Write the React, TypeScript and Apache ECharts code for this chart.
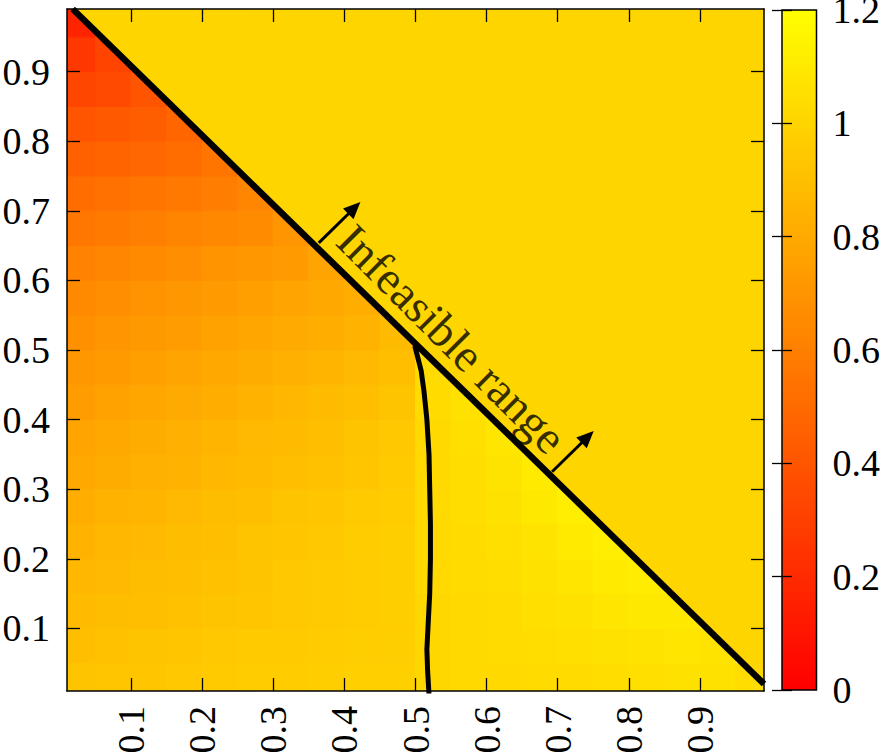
import React, { useEffect, useRef } from 'react';
import * as echarts from 'echarts';

// ---- data ----
// heat-map cell centres (cell width 0.05)
const cellCentersX = [0.025, 0.075, 0.125, 0.175, 0.225, 0.275, 0.325, 0.375, 0.425, 0.475, 0.525, 0.575, 0.625, 0.675, 0.725, 0.775, 0.825, 0.875, 0.925, 0.975];
const cellCentersY = [0.025, 0.075, 0.125, 0.175, 0.225, 0.275, 0.325, 0.375, 0.425, 0.475, 0.525, 0.575, 0.625, 0.675, 0.725, 0.775, 0.825, 0.875, 0.925, 0.975];

// one array per row of cells (feasible region only, x + y <= 1), values left to right
const row_y025 = [0.92, 0.93, 0.93, 0.94, 0.95, 0.96, 0.96, 0.97, 0.98, 0.98, 1.01, 1.02, 1.02, 1.03, 1.03, 1.04, 1.05, 1.06, 1.06, 1.04];
const row_y075 = [0.90, 0.91, 0.92, 0.93, 0.94, 0.95, 0.95, 0.96, 0.97, 0.97, 1.01, 1.02, 1.03, 1.04, 1.05, 1.06, 1.07, 1.08, 1.07];
const row_y125 = [0.88, 0.89, 0.90, 0.91, 0.92, 0.93, 0.94, 0.95, 0.96, 0.97, 1.01, 1.02, 1.03, 1.05, 1.06, 1.08, 1.09, 1.09];
const row_y175 = [0.86, 0.87, 0.89, 0.90, 0.91, 0.92, 0.94, 0.95, 0.96, 0.97, 1.02, 1.03, 1.04, 1.06, 1.08, 1.10, 1.11];
const row_y225 = [0.84, 0.86, 0.87, 0.89, 0.90, 0.92, 0.93, 0.94, 0.96, 0.97, 1.02, 1.03, 1.05, 1.07, 1.10, 1.12];
const row_y275 = [0.82, 0.84, 0.85, 0.87, 0.89, 0.90, 0.92, 0.93, 0.95, 0.96, 1.02, 1.04, 1.06, 1.09, 1.12];
const row_y325 = [0.79, 0.81, 0.83, 0.84, 0.86, 0.88, 0.90, 0.91, 0.93, 0.95, 1.02, 1.04, 1.07, 1.10];
const row_y375 = [0.77, 0.79, 0.81, 0.83, 0.85, 0.87, 0.88, 0.90, 0.92, 0.94, 1.02, 1.05, 1.08];
const row_y425 = [0.74, 0.76, 0.78, 0.80, 0.82, 0.84, 0.86, 0.88, 0.90, 0.92, 1.03, 1.06];
const row_y475 = [0.71, 0.73, 0.75, 0.77, 0.79, 0.81, 0.83, 0.85, 0.87, 0.90, 1.03];
const row_y525 = [0.68, 0.70, 0.72, 0.74, 0.76, 0.78, 0.80, 0.82, 0.84, 0.88];
const row_y575 = [0.65, 0.67, 0.69, 0.71, 0.73, 0.75, 0.77, 0.79, 0.82];
const row_y625 = [0.61, 0.63, 0.65, 0.67, 0.69, 0.71, 0.73, 0.77];
const row_y675 = [0.56, 0.58, 0.60, 0.62, 0.64, 0.66, 0.70];
const row_y725 = [0.51, 0.53, 0.55, 0.57, 0.59, 0.63];
const row_y775 = [0.45, 0.47, 0.49, 0.51, 0.55];
const row_y825 = [0.40, 0.42, 0.44, 0.48];
const row_y875 = [0.33, 0.35, 0.40];
const row_y925 = [0.26, 0.32];
const row_y975 = [0.17];
const valueRows = [row_y025, row_y075, row_y125, row_y175, row_y225, row_y275, row_y325, row_y375, row_y425, row_y475,
  row_y525, row_y575, row_y625, row_y675, row_y725, row_y775, row_y825, row_y875, row_y925, row_y975];

// feasibility boundary line (x + y = 1); the region above it is infeasible
const boundaryX = [0.018, 0.99];
const boundaryY = [0.99, 0.02];
const infeasibleValue = 1.0;
const plotCornerX = 0.99;
const plotCornerY = 0.99;

// contour line
const contourX = [0.499, 0.503, 0.508, 0.512, 0.516, 0.519, 0.520, 0.521, 0.521, 0.520, 0.518, 0.516, 0.517, 0.519];
const contourY = [0.506, 0.490, 0.470, 0.440, 0.400, 0.350, 0.300, 0.250, 0.200, 0.150, 0.110, 0.070, 0.040, 0.005];

// arrows pointing into the infeasible region
const arrowStartX = [0.364, 0.692];
const arrowStartY = [0.654, 0.325];
const arrowEndX = [0.414, 0.742];
const arrowEndY = [0.704, 0.375];

// annotation
const annotationText = 'Infeasible range';
const annotationX = 0.551;
const annotationY = 0.516;

// ticks and colour scale
const axisTicks = [0.1, 0.2, 0.3, 0.4, 0.5, 0.6, 0.7, 0.8, 0.9];
const colorbarTicks = [0, 0.2, 0.4, 0.6, 0.8, 1, 1.2];
const axisMin = 0.01;
const axisMax = 0.99;
const colorMin = 0;
const colorMax = 1.2;
const colorRange = ['#ff0000', '#ffff00'];

const CELL = 0.05;
const FONT = "'Liberation Serif', 'Times New Roman', Times, serif";

export default function App() {
  const ref = useRef<HTMLDivElement>(null);

  useEffect(() => {
    if (!ref.current) return;
    const chart = echarts.init(ref.current, null, { renderer: 'svg' });

    const cells: number[][] = [];
    valueRows.forEach((row, j) => {
      row.forEach((v, i) => {
        cells.push([cellCentersX[i], cellCentersY[j], v]);
      });
    });

    const mainAxisCommon = (pos: string, showLabel: boolean) => ({
      gridIndex: 0,
      type: 'value',
      position: pos,
      min: axisMin,
      max: axisMax,
      z: 5,
      axisLine: { show: true, onZero: false, lineStyle: { color: '#000', width: 1.5 } },
      axisTick: { show: true, inside: true, length: 13, customValues: axisTicks, lineStyle: { color: '#000', width: 1.3 } },
      axisLabel: {
        show: showLabel,
        customValues: axisTicks,
        margin: 17,
        fontSize: 38,
        fontFamily: FONT,
        color: '#000',
      } as any,
      splitLine: { show: false },
    });

    const xBottom: any = mainAxisCommon('bottom', true);
    xBottom.axisLabel.rotate = 90;
    xBottom.axisLabel.margin = 15;

    const yLeft: any = mainAxisCommon('left', true);
    yLeft.axisLabel.padding = [4, 0, 0, 0];

    const CB = { left: 782, top: 10, width: 34.5, height: 680 };

    const option: any = {
      animation: false,
      backgroundColor: '#ffffff',
      textStyle: { fontFamily: FONT },
      grid: [
        { left: 67, top: 9, width: 697, height: 682, show: false, containLabel: false, outerBoundsMode: 'none' },
        {
          left: CB.left, top: CB.top, width: CB.width, height: CB.height, show: true,
          borderColor: '#000', borderWidth: 1.5, backgroundColor: 'transparent', z: 10,
          containLabel: false, outerBoundsMode: 'none',
        },
      ],
      graphic: [
        {
          type: 'rect',
          silent: true,
          z: 1,
          shape: { x: CB.left, y: CB.top, width: CB.width, height: CB.height },
          style: {
            fill: new echarts.graphic.LinearGradient(0, 1, 0, 0, [
              { offset: 0, color: colorRange[0] },
              { offset: 1, color: colorRange[1] },
            ]),
          },
        },
      ],
      xAxis: [
        xBottom,
        mainAxisCommon('top', false),
        { gridIndex: 1, type: 'value', min: 0, max: 1, show: false },
      ],
      yAxis: [
        yLeft,
        mainAxisCommon('right', false),
        {
          gridIndex: 1, type: 'value', position: 'right', min: colorMin, max: colorMax, z: 10,
          axisLine: { show: false },
          axisTick: { show: true, inside: true, length: 10, customValues: colorbarTicks, lineStyle: { color: '#000', width: 1.3 } },
          axisLabel: {
            show: true, customValues: colorbarTicks, margin: 16, fontSize: 38, fontFamily: FONT, color: '#000',
            padding: [6, 0, 0, 0],
          },
          splitLine: { show: false },
        },
        {
          gridIndex: 1, type: 'value', position: 'left', min: colorMin, max: colorMax, z: 10,
          axisLine: { show: false },
          axisTick: { show: true, inside: true, length: 10, customValues: colorbarTicks, lineStyle: { color: '#000', width: 1.3 } },
          axisLabel: { show: false },
          splitLine: { show: false },
        },
      ],
      visualMap: {
        type: 'continuous',
        min: colorMin,
        max: colorMax,
        dimension: 2,
        seriesIndex: [0, 1],
        inRange: { color: colorRange },
        calculable: false,
        hoverLink: false,
        show: false,
      },
      series: [
        {
          type: 'custom',
          name: 'cells',
          xAxisIndex: 0,
          yAxisIndex: 0,
          clip: true,
          silent: true,
          z: 1,
          data: cells,
          renderItem: (params: any, api: any) => {
            const x = api.value(0);
            const y = api.value(1);
            const p0 = api.coord([x - CELL / 2, y + CELL / 2]);
            const p1 = api.coord([x + CELL / 2, y - CELL / 2]);
            const color = api.visual('color');
            return {
              type: 'rect',
              shape: { x: p0[0], y: p0[1], width: p1[0] - p0[0], height: p1[1] - p0[1] },
              style: { fill: color, stroke: color, lineWidth: 1 },
            };
          },
        },
        {
          type: 'custom',
          name: 'infeasible',
          xAxisIndex: 0,
          yAxisIndex: 0,
          clip: true,
          silent: true,
          z: 2,
          data: [[plotCornerX, plotCornerY, infeasibleValue]],
          renderItem: (params: any, api: any) => {
            const a = api.coord([boundaryX[0], boundaryY[0]]);
            const c = api.coord([plotCornerX, plotCornerY]);
            const b = api.coord([boundaryX[1], boundaryY[1]]);
            const color = api.visual('color');
            // extend slightly beyond the plot edges; the series is clipped to the grid
            const points = [
              [a[0], a[1] - 4],
              [c[0] + 4, c[1] - 4],
              [b[0] + 4, b[1]],
              b,
              a,
            ];
            return {
              type: 'polygon',
              shape: { points },
              style: { fill: color, stroke: color, lineWidth: 1 },
            };
          },
        },
        {
          type: 'line',
          name: 'boundary',
          xAxisIndex: 0,
          yAxisIndex: 0,
          z: 3,
          silent: true,
          symbol: 'none',
          data: boundaryX.map((x, k) => [x, boundaryY[k]]),
          lineStyle: { color: '#000', width: 6.5 },
          markLine: {
            silent: true,
            symbol: ['none', 'triangle'],
            symbolSize: [15, 17],
            label: { show: false },
            lineStyle: { color: '#000', width: 3, type: 'solid' },
            data: arrowStartX.map((x, k) => [
              { coord: [x, arrowStartY[k]] },
              { coord: [arrowEndX[k], arrowEndY[k]] },
            ]),
          },
        },
        {
          type: 'line',
          name: 'contour',
          xAxisIndex: 0,
          yAxisIndex: 0,
          z: 3,
          silent: true,
          symbol: 'none',
          data: contourX.map((x, k) => [x, contourY[k]]),
          lineStyle: { color: '#000', width: 5 },
        },
        {
          type: 'scatter',
          name: 'annotation',
          xAxisIndex: 0,
          yAxisIndex: 0,
          z: 4,
          silent: true,
          symbolSize: 1,
          itemStyle: { color: 'rgba(0,0,0,0)' },
          data: [[annotationX, annotationY]],
          label: {
            show: true,
            position: 'inside',
            formatter: annotationText,
            rotate: -45,
            fontSize: 47,
            fontFamily: FONT,
            color: '#000',
          },
        },
      ],
    };

    chart.setOption(option);
    return () => {
      chart.dispose();
    };
  }, []);

  return (
    <div
      ref={ref}
      style={{ position: 'absolute', left: 0, top: 0, width: 886, height: 755, background: '#fff' }}
    />
  );
}
